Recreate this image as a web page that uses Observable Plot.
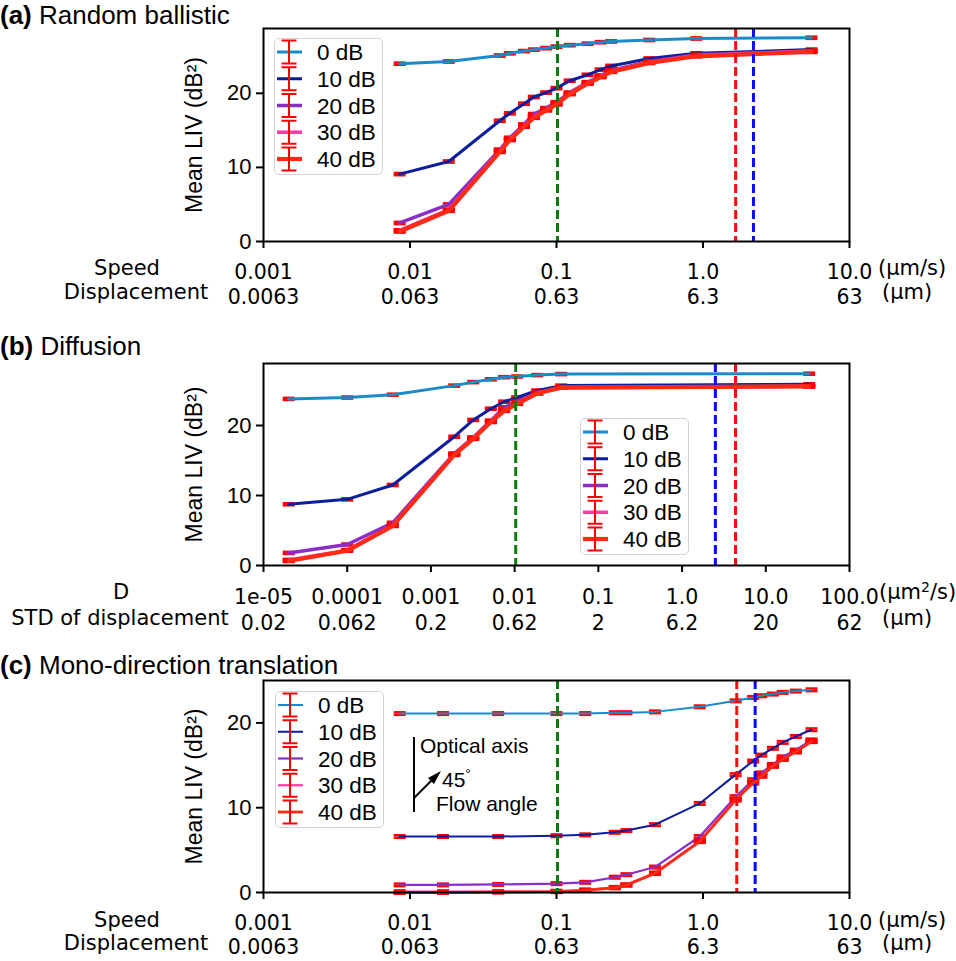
<!DOCTYPE html>
<html><head><meta charset="utf-8">
<script src="https://cdn.jsdelivr.net/npm/d3@7"></script>
<script src="https://cdn.jsdelivr.net/npm/@observablehq/plot@0.6"></script>
<style>
body{margin:0;background:#fff;}
#page{position:relative;width:956px;height:961px;overflow:hidden;font-family:"Liberation Sans",Arial,sans-serif;color:#000;}
.abs{position:absolute;white-space:nowrap;line-height:1;}
.dj{font-family:"DejaVu Sans",sans-serif;font-size:21px;}
.ttl{font-size:26px;}
.svgp{position:absolute;left:0;}
</style></head><body><div id="page"></div>
<script>
// ---------- shared labels ----------
const seriesNames = ["0 dB", "10 dB", "20 dB", "30 dB", "40 dB"];
const speedTicks = [0.001, 0.01, 0.1, 1, 10];
const speedLabels = ["0.001", "0.01", "0.1", "1.0", "10.0"];
const dispLabels = ["0.0063", "0.063", "0.63", "6.3", "63"];
const diffTicks = [1e-5, 1e-4, 1e-3, 1e-2, 0.1, 1, 10, 100];
const diffLabels = ["1e-05", "0.0001", "0.001", "0.01", "0.1", "1.0", "10.0", "100.0"];
const stdLabels = ["0.02", "0.062", "0.2", "0.62", "2", "6.2", "20", "62"];
const yTicks = [0, 10, 20];
const errBar = 0.15;

// ---------- (a) Random ballistic ----------
const xA = [0.0085, 0.0184, 0.041, 0.048, 0.06, 0.07, 0.085, 0.1, 0.123, 0.163, 0.2, 0.236, 0.43, 0.9, 5.5];
const a0  = [24.0, 24.3, 25.1, 25.4, 25.7, 25.9, 26.1, 26.3, 26.5, 26.7, 26.9, 27.0, 27.2, 27.4, 27.5];
const a10 = [9.1, 10.8, 16.3, 17.3, 18.6, 19.5, 20.1, 20.7, 21.7, 22.5, 23.2, 23.7, 24.7, 25.4, 25.9];
const a20 = [2.5, 5.0, 12.4, 14.0, 15.8, 17.2, 18.0, 18.8, 20.1, 21.5, 22.4, 23.1, 24.3, 25.2, 25.7];
const a30 = [1.5, 4.3, 12.2, 13.8, 15.6, 16.8, 17.8, 18.6, 20.0, 21.4, 22.3, 23.0, 24.2, 25.1, 25.7];
const a40 = [1.35, 4.15, 12.1, 13.7, 15.5, 16.7, 17.7, 18.5, 19.9, 21.3, 22.2, 22.9, 24.1, 25.0, 25.6];
// dashed markers: [green, red, blue]
const vA = [0.1016, 1.67, 2.21];

// ---------- (b) Diffusion ----------
const xB = [2e-5, 1e-4, 3.5e-4, 1.9e-3, 3.2e-3, 5.2e-3, 7.5e-3, 0.0107, 0.0186, 0.036, 33];
const b0  = [23.8, 24.0, 24.4, 25.7, 26.2, 26.6, 26.9, 27.0, 27.2, 27.35, 27.4];
const b10 = [8.75, 9.45, 11.5, 18.4, 20.8, 22.4, 23.4, 24.0, 25.0, 25.7, 25.9];
const b20 = [1.8, 3.0, 6.1, 16.0, 18.3, 20.7, 22.6, 23.4, 24.7, 25.5, 25.6];
const b30 = [0.8, 2.2, 5.7, 15.9, 18.2, 20.6, 22.2, 23.2, 24.6, 25.4, 25.6];
const b40 = [0.65, 2.1, 5.65, 15.8, 18.1, 20.5, 22.1, 23.1, 24.6, 25.4, 25.6];
const vB = [0.0103, 4.35, 2.5];

// ---------- (c) Mono-direction translation ----------
const xC = [0.0085, 0.0168, 0.04, 0.1, 0.157, 0.25, 0.3, 0.47, 0.95, 1.67, 2.2, 2.5, 3.0, 3.5, 4.3, 5.5];
const c0  = [21.1, 21.1, 21.1, 21.1, 21.1, 21.2, 21.2, 21.3, 21.9, 22.6, 23.0, 23.2, 23.4, 23.6, 23.75, 23.9];
const c10 = [6.6, 6.6, 6.6, 6.7, 6.8, 7.1, 7.3, 8.0, 10.5, 13.9, 15.5, 16.2, 17.0, 17.7, 18.4, 19.2];
const c20 = [0.9, 0.9, 0.95, 1.05, 1.2, 1.8, 2.1, 3.0, 6.6, 11.3, 13.3, 14.1, 15.1, 16.0, 16.8, 18.0];
const c30 = [0.1, 0.1, 0.1, 0.15, 0.3, 0.6, 0.9, 2.3, 6.1, 11.0, 13.0, 13.8, 14.9, 15.8, 16.6, 17.8];
const c40 = [0.0, 0.0, 0.05, 0.1, 0.25, 0.55, 0.87, 2.25, 6.0, 10.9, 12.9, 13.7, 14.9, 15.7, 16.6, 17.8];
const vC = [0.1016, 1.7, 2.27];

// ---------- styles ----------
const seriesColors = ["#1b8ac9", "#0c1e9c", "#8a2ec8", "#ff3aa6", "#ff2a14"];
const errColor = "#ff0000";
const vColors = ["#0d7a0d", "#ff0a0a", "#0a0aff"];
const capSymbol = {draw(ctx, size) { const r = Math.sqrt(size / Math.PI); ctx.moveTo(-r, 0); ctx.lineTo(r, 0); }};

const page = document.getElementById("page");

function seriesMarks(xs, ysList, lw) {
  const marks = [];
  ysList.forEach((ys, si) => {
    const data = xs.map((x, i) => ({x, y: ys[i]}));
    marks.push(Plot.ruleX(data, {x: "x", y1: d => d.y - errBar, y2: d => d.y + errBar, stroke: errColor, strokeWidth: 2}));
    marks.push(Plot.dot(data, {x: "x", y: d => d.y - errBar, symbol: capSymbol, r: 6, stroke: errColor, strokeWidth: 2.5, fill: "none"}));
    marks.push(Plot.dot(data, {x: "x", y: d => d.y + errBar, symbol: capSymbol, r: 6, stroke: errColor, strokeWidth: 2.5, fill: "none"}));
    marks.push(Plot.line(data, {x: "x", y: "y", stroke: seriesColors[si], strokeWidth: lw[si]}));
  });
  return marks;
}

function makePanel(cfg) {
  const lab = new Map(cfg.xTicks.map((t, i) => [t, cfg.row1[i] + "\n" + cfg.row2[i]]));
  const marks = [
    ...seriesMarks(cfg.xs, cfg.ys, cfg.lw),
    ...cfg.vlines.map((v, i) => Plot.ruleX([v], {stroke: vColors[i], strokeWidth: 3, strokeDasharray: "9,4"})),
    Plot.frame({stroke: "#000", strokeWidth: 2}),
    Plot.axisX({ticks: cfg.xTicks, tickFormat: d => lab.get(d), tickSize: 7, tickPadding: cfg.tickPadding,
      strokeWidth: 2, fontSize: 20.5, fontFamily: "DejaVu Sans", lineHeight: cfg.lineHeight, label: null}),
    Plot.axisY({ticks: yTicks, tickSize: 7, tickPadding: 5, strokeWidth: 2, fontSize: 22,
      fontFamily: "Liberation Sans", label: null}),
    Plot.axisY({ticks: [], tickSize: 0, fontSize: 23, fontFamily: "Liberation Sans",
      label: "Mean LIV (dB²)", labelAnchor: "center", labelArrow: "none", labelOffset: 78})
  ];
  const svg = Plot.plot({
    width: 956, height: cfg.height,
    marginLeft: 263, marginRight: 107, marginTop: cfg.marginTop, marginBottom: cfg.marginBottom,
    x: {type: "log", domain: cfg.xDomain},
    y: {domain: [0, cfg.yMax]},
    style: {background: "transparent", overflow: "visible"},
    marks
  });
  svg.classList.add("svgp");
  svg.style.top = cfg.top + "px";
  page.appendChild(svg);
}

function addText(html, cls, left, top, align) {
  const d = document.createElement("div");
  d.className = "abs " + cls;
  d.innerHTML = html;
  page.appendChild(d);
  const w = d.getBoundingClientRect().width, h = d.getBoundingClientRect().height;
  let l = left;
  if (align === "center") l = left - w / 2;
  if (align === "right") l = left - w;
  d.style.left = l + "px";
  d.style.top = (top - h / 2) + "px";
  return d;
}

function addLegend(left, top, lw) {
  const W = 109, H = 137, step = 26.75;
  const ns = "http://www.w3.org/2000/svg";
  const box = document.createElement("div");
  box.style.cssText = `position:absolute;left:${left}px;top:${top}px;width:${W}px;height:${H}px;border:1.5px solid #d4d4d4;border-radius:5px;background:rgba(255,255,255,0.85);box-sizing:border-box;`;
  const svg = document.createElementNS(ns, "svg");
  svg.setAttribute("width", W); svg.setAttribute("height", H);
  svg.style.position = "absolute"; svg.style.left = "-1.5px"; svg.style.top = "-1.5px"; svg.style.overflow = "visible";
  seriesNames.forEach((name, i) => {
    const cy = 14 + i * step;
    const g = document.createElementNS(ns, "g");
    g.innerHTML =
      `<line x1="3" x2="28" y1="${cy}" y2="${cy}" stroke="${seriesColors[i]}" stroke-width="${lw[i]}"/>` +
      `<line x1="15" x2="15" y1="${cy - 11.5}" y2="${cy + 11.5}" stroke="${errColor}" stroke-width="2"/>` +
      `<line x1="7.5" x2="22.5" y1="${cy - 11.5}" y2="${cy - 11.5}" stroke="${errColor}" stroke-width="2"/>` +
      `<line x1="7.5" x2="22.5" y1="${cy + 11.5}" y2="${cy + 11.5}" stroke="${errColor}" stroke-width="2"/>` +
      `<text x="43" y="${cy}" dy="0.36em" font-family="Liberation Sans" font-size="22.5">${name}</text>`;
    svg.appendChild(g);
  });
  box.appendChild(svg);
  page.appendChild(box);
}

const lwAB = [3, 3, 3.5, 3.5, 4.2];
const lwC = [2, 2, 2.2, 2.2, 2.8];

makePanel({top: 0, height: 311, marginTop: 28, marginBottom: 70, xDomain: [0.001, 10], xTicks: speedTicks,
  row1: speedLabels, row2: dispLabels, yMax: 28.75, xs: xA, ys: [a0, a10, a20, a30, a40], vlines: vA, lw: lwAB,
  tickPadding: 13, lineHeight: 1.2});
makePanel({top: 330, height: 303, marginTop: 33, marginBottom: 68, xDomain: [1e-5, 100], xTicks: diffTicks,
  row1: diffLabels, row2: stdLabels, yMax: 28.86, xs: xB, ys: [b0, b10, b20, b30, b40], vlines: vB, lw: lwAB,
  tickPadding: 13, lineHeight: 1.27});
makePanel({top: 650, height: 311, marginTop: 30, marginBottom: 69, xDomain: [0.001, 10], xTicks: speedTicks,
  row1: speedLabels, row2: dispLabels, yMax: 25.0, xs: xC, ys: [c0, c10, c20, c30, c40], vlines: vC, lw: lwC,
  tickPadding: 14, lineHeight: 1.15});

// titles
addText("<b>(a)</b> Random ballistic", "ttl", 0, 15, "left");
addText("<b>(b)</b> Diffusion", "ttl", 0, 346, "left");
addText("<b>(c)</b> Mono-direction translation", "ttl", 0, 665, "left");

// row labels and units
addText("Speed", "dj", 127, 268, "center");
addText("Displacement", "dj", 136, 292, "center");
addText("(μm/s)", "dj", 878, 268, "left");
addText("(μm)", "dj", 882, 292, "left");

addText("D", "dj", 121, 592, "center");
addText("STD of displacement", "dj", 120, 618, "center");
addText("(μm<sup style='font-size:14px;vertical-align:7px;line-height:0'>2</sup>/s)", "dj", 879, 592, "left");
addText("(μm)", "dj", 882, 618, "left");

addText("Speed", "dj", 127, 920, "center");
addText("Displacement", "dj", 136, 943, "center");
addText("(μm/s)", "dj", 878, 920, "left");
addText("(μm)", "dj", 882, 943, "left");

// legends
addLegend(274, 38, lwAB);
addLegend(580, 418, lwAB);
addLegend(275, 691, lwC);

// annotation in (c)
(function () {
  const ns = "http://www.w3.org/2000/svg";
  const svg = document.createElementNS(ns, "svg");
  svg.setAttribute("width", 956); svg.setAttribute("height", 961);
  svg.style.cssText = "position:absolute;left:0;top:0;pointer-events:none;";
  svg.innerHTML =
    `<line x1="414" x2="414" y1="737" y2="812" stroke="#000" stroke-width="2"/>` +
    `<line x1="414" x2="432" y1="798" y2="780" stroke="#000" stroke-width="2"/>` +
    `<polygon points="441,771 428,778 434,784" fill="#000"/>`;
  page.appendChild(svg);
  addText("Optical axis", "", 420, 743, "left").style.fontSize = "21px";
  addText("45<sup style='font-size:14px;vertical-align:8px;line-height:0'>°</sup>", "", 442, 777, "left").style.fontSize = "21px";
  addText("Flow angle", "", 436, 801, "left").style.fontSize = "21px";
})();
</script></body></html>
